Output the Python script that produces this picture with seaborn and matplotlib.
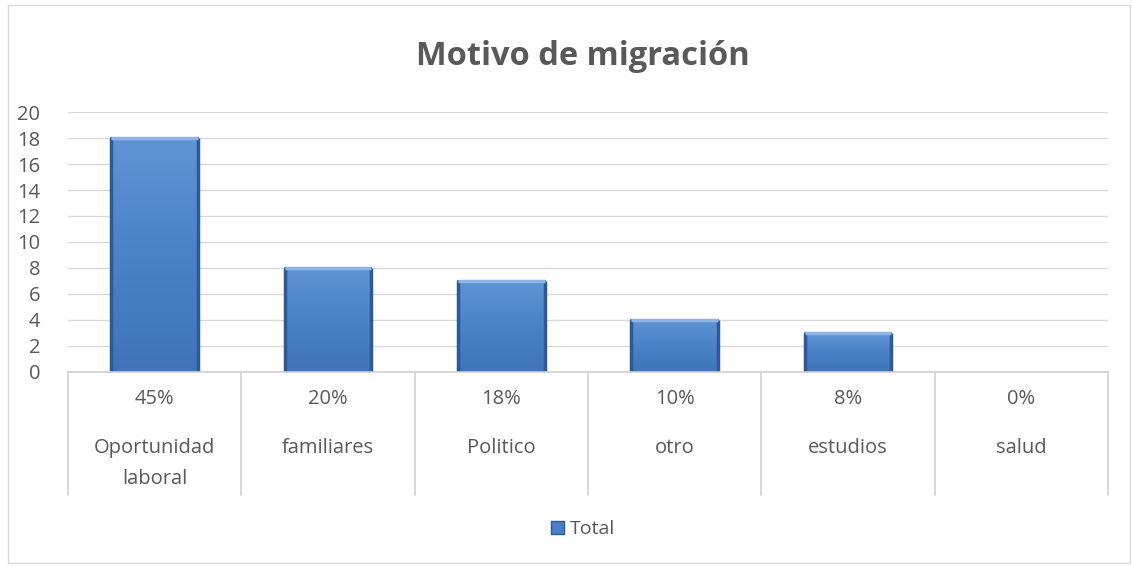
import matplotlib
matplotlib.use("Agg")
import matplotlib.pyplot as plt
import numpy as np
import pandas as pd
import seaborn as sns
from matplotlib.colors import LinearSegmentedColormap
from matplotlib.patches import Patch

categorias = ["Oportunidad\nlaboral", "familiares", "Politico", "otro", "estudios", "salud"]
valores = [18, 8, 7, 4, 3, 0]
porcentajes = ["45%", "20%", "18%", "10%", "8%", "0%"]

sns.set_theme(style="white")
plt.rcParams["font.family"] = ["Open Sans", "DejaVu Sans"]

gris = "#595959"
df = pd.DataFrame({"motivo": categorias, "total": valores})

fig = plt.figure(figsize=(11.32, 5.66), dpi=100)
ax = fig.add_axes([0.060, 0.343, 0.919, 0.459])

sns.barplot(data=df, x="motivo", y="total", color="#4a7fc4", width=0.5,
            edgecolor="#2c5a94", linewidth=1.2, ax=ax)

# gradient fill inside each bar
cmap = LinearSegmentedColormap.from_list("azul", ["#3f74b8", "#4b82c8", "#5f93d4"])
grad = np.linspace(0, 1, 256).reshape(-1, 1)
for bar in ax.patches:
    h = bar.get_height()
    if h <= 0:
        bar.set_linewidth(0)
        continue
    x0 = bar.get_x()
    w = bar.get_width()
    z = bar.get_zorder()
    im = ax.imshow(grad, cmap=cmap, aspect="auto", origin="lower",
                   extent=[x0, x0 + w, 0, h], zorder=z + 0.1)
    im.set_clip_path(bar)
    # bevel: darker sides, light top
    ax.plot([x0, x0], [0, h], color="#2c5a94", lw=2.5, zorder=z + 0.2,
            solid_capstyle="butt")
    ax.plot([x0 + w, x0 + w], [0, h], color="#2c5a94", lw=2.5, zorder=z + 0.2,
            solid_capstyle="butt")
    ax.plot([x0, x0 + w], [h, h], color="#8db4e6", lw=2.5,
            zorder=z + 0.3, solid_capstyle="butt")

ax.set_xlim(-0.5, len(categorias) - 0.5)
ax.set_ylim(0, 20)
ax.set_yticks(range(0, 21, 2))
ax.yaxis.grid(True, color="#d9d9d9", linewidth=1)
ax.set_axisbelow(True)
for s in ["top", "right", "left"]:
    ax.spines[s].set_visible(False)
ax.spines["bottom"].set_color("#d0d0d0")
ax.spines["bottom"].set_linewidth(1.2)
ax.tick_params(axis="y", length=0, labelsize=14.5, labelcolor=gris, pad=20)
ax.set_xticks([])
ax.set_xlabel("")
ax.set_ylabel("")

# two-level category axis
trans = ax.get_xaxis_transform()
for i in range(len(categorias) + 1):
    ax.plot([i - 0.5, i - 0.5], [0, -0.473], transform=trans, color="#d0d0d0",
            lw=1.2, clip_on=False)
for i, (cat, pct) in enumerate(zip(categorias, porcentajes)):
    ax.text(i, -0.104, pct, transform=trans, ha="center", va="center",
            fontsize=14.5, color=gris)
    ax.text(i, -0.255, cat, transform=trans, ha="center", va="top",
            fontsize=14.5, color=gris, linespacing=1.75)

fig.text(0.515, 0.900, "Motivo de migración", ha="center", va="center",
         fontsize=23.5, fontweight="bold", color=gris)

fig.legend(handles=[Patch(facecolor="#4a7fc4", edgecolor="#2c5a94", label="Total")],
           loc="center", bbox_to_anchor=(0.515, 0.065), frameon=False,
           fontsize=14, labelcolor=gris, handlelength=0.7, handleheight=0.7,
           handletextpad=0.3)

# chart frame
fig.add_artist(plt.Rectangle((0.007, 0.006), 0.991, 0.985, transform=fig.transFigure,
                             fill=False, edgecolor="#d9d9d9", lw=1))

fig.savefig("out.png", dpi=100, facecolor="white")
